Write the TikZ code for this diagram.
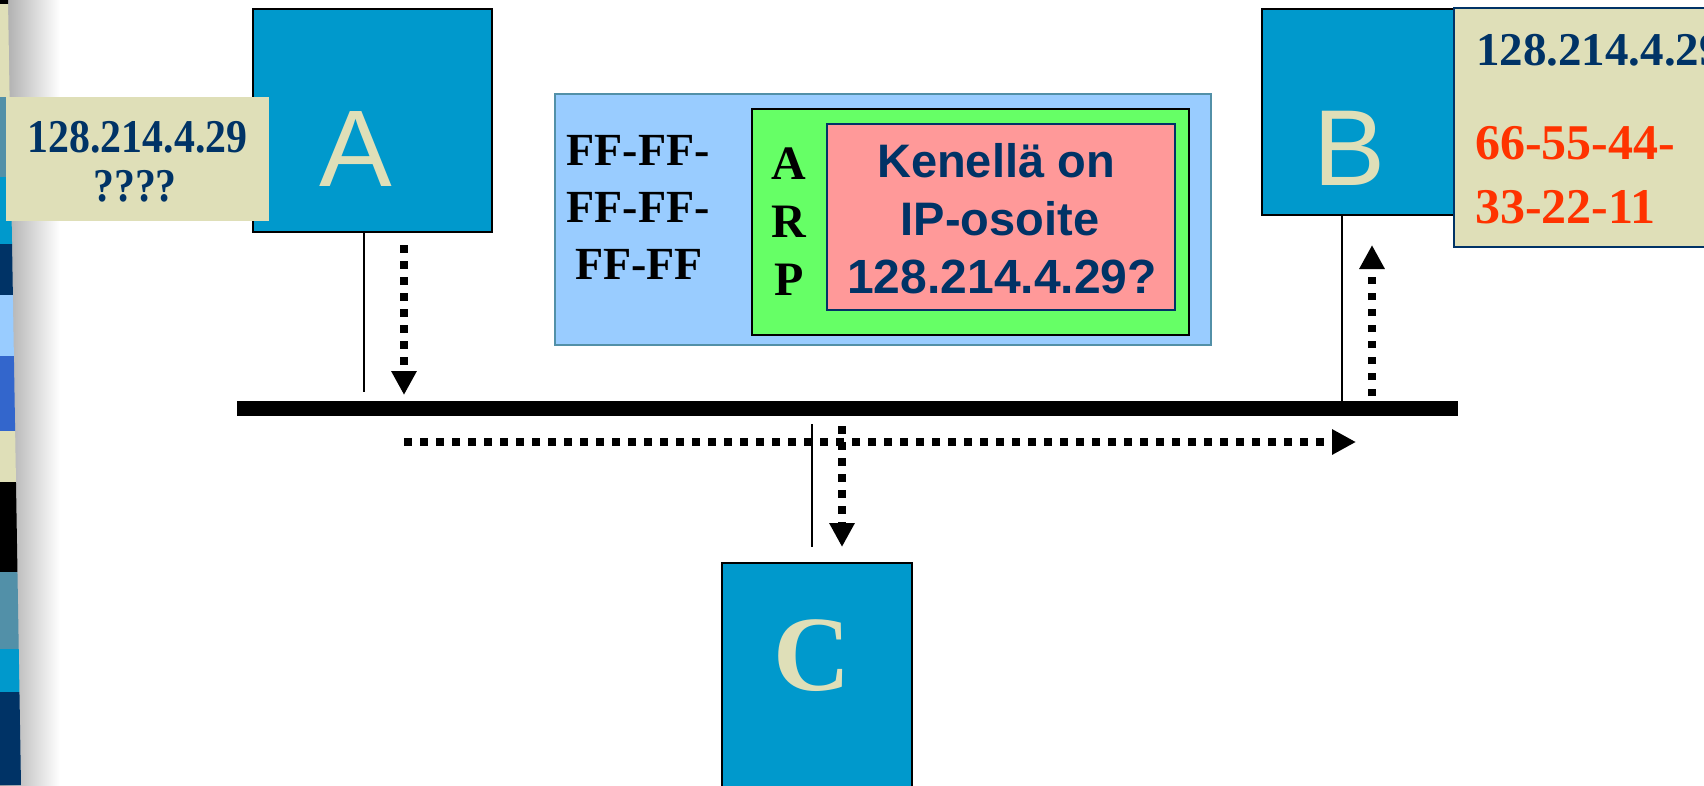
\documentclass[tikz,border=0pt]{standalone}
\usepackage{fontspec}
\setmainfont{Liberation Serif}
\newfontfamily\arialfont{Liberation Sans}
\usetikzlibrary{arrows.meta}

\definecolor{hostblue}{HTML}{0099CC}
\definecolor{khaki}{HTML}{DFDFB8}
\definecolor{navy}{HTML}{003366}
\definecolor{macred}{HTML}{FF3300}
\definecolor{frameblue}{HTML}{99CCFF}
\definecolor{framegreen}{HTML}{66FF66}
\definecolor{framepink}{HTML}{FF9999}
\definecolor{steel}{HTML}{5290A8}
\definecolor{stripeblue}{HTML}{3366CC}

\newcommand{\fsz}[1]{\fontsize{#1}{1.2\dimexpr#1pt\relax}\selectfont}

\begin{document}
\begin{tikzpicture}[x=1pt,y=-1pt,
  host/.style={draw=black, line width=2pt, fill=hostblue, inner sep=0pt},
  hostname/.style={text=khaki, inner sep=0pt, anchor=base},
  tag/.style={fill=khaki, inner sep=0pt},
  txt/.style={inner sep=0pt, anchor=base},
  tap/.style={line width=2pt},
  sig/.style={line width=8pt, dash pattern=on 7.5pt off 8.5pt,
              -{Triangle[length=24pt,width=24pt]}}
]
\useasboundingbox (0,0) rectangle (1704,785);
\clip (0,0) rectangle (1704,785);

% slide edge: shadow and coloured stripe
\shade[left color=gray!70, right color=white] (0,0) rectangle (60,785);
\foreach \ya/\yb/\c in {0/4/black, 4/97/khaki, 97/177/steel, 177/244/hostblue,
    244/295/navy, 295/356/frameblue, 356/431/stripeblue, 431/482/khaki,
    482/572/black, 572/649/steel, 649/692/hostblue, 692/785/navy}
  \fill[\c] (0,\ya) -- ({8+0.01656*\ya},\ya) -- ({8+0.01656*\yb},\yb) -- (0,\yb) -- cycle;

% hosts
\node[host, minimum width=239pt, minimum height=223pt] (boxA) at (372.5,120.5) {};
\node[host, minimum width=207pt, minimum height=206pt] (boxB) at (1365.5,112) {};
\node[host, minimum width=190pt, minimum height=257pt] (boxC) at (817,691.5) {};
\node[hostname, font=\arialfont\fsz{109}] (nameA) at (355.5,186) {A};
\node[hostname, font=\arialfont\fsz{108}] (nameB) at (1349,185) {B};
\node[hostname, font=\bfseries\fsz{107}] (nameC) at (812,690) {C};

% address tags
\node[tag, minimum width=263pt, minimum height=124pt] (tagA) at (137.5,159) {};
\node[txt, text=navy, font=\bfseries\fsz{47}] (ipA) at (137.5,152)
  {\scalebox{0.89}[1]{128.214.4.29}};
\node[txt, text=navy, font=\bfseries\fsz{47}] (macA) at (135,201)
  {\scalebox{0.89}[1]{????}};

\node[tag, draw=navy, line width=2pt, minimum width=286pt, minimum height=239pt]
  (tagB) at (1597,127.5) {};
\node[txt, anchor=base west, text=navy, font=\bfseries\fsz{47}] (ipB) at (1476,65) {128.214.4.29};
\node[txt, anchor=base west, text=macred, font=\bfseries\fsz{50}] (macB1) at (1475,159) {66-55-44-};
\node[txt, anchor=base west, text=macred, font=\bfseries\fsz{50}] (macB2) at (1475,223) {33-22-11};

% ARP frame
\node[draw=steel, line width=2pt, fill=frameblue, inner sep=0pt,
  minimum width=656pt, minimum height=251pt] (eth) at (883,219.5) {};
\node[draw=black, line width=1.5pt, fill=framegreen, inner sep=0pt,
  minimum width=437pt, minimum height=226pt] (arp) at (970.5,222) {};
\node[draw=navy, line width=2pt, fill=framepink, inner sep=0pt,
  minimum width=348pt, minimum height=186pt] (query) at (1001,217) {};

\node[txt, font=\bfseries\fsz{46}] (dst1) at (638,165) {FF-FF-};
\node[txt, font=\bfseries\fsz{46}] (dst2) at (638,222) {FF-FF-};
\node[txt, font=\bfseries\fsz{46}] (dst3) at (639,279) {FF-FF};

\node[txt, font=\bfseries\fsz{48}] (arpA) at (789,179) {A};
\node[txt, font=\bfseries\fsz{48}] (arpR) at (789,237) {R};
\node[txt, font=\bfseries\fsz{48}] (arpP) at (789,295) {P};

\node[txt, text=navy, font=\arialfont\bfseries\fsz{47}] (q1) at (996,177) {Kenellä on};
\node[txt, text=navy, font=\arialfont\bfseries\fsz{47}] (q2) at (1000,235) {IP-osoite};
\node[txt, text=navy, font=\arialfont\bfseries\fsz{48}] (q3) at (1002,293) {128.214.4.29?};

% shared medium
\node[fill=black, inner sep=0pt, minimum width=1221pt, minimum height=15pt] (bus) at (847.5,408.5) {};

% taps
\coordinate (tapA) at (364,392);
\coordinate (tapCtop) at (812,424);
\coordinate (tapCbot) at (812,547);
\draw[tap] (boxA.south -| tapA) -- (tapA);
\draw[tap] (boxB.south -| 1342,0) -- (bus.north -| 1342,0);
\draw[tap] (tapCtop) -- (tapCbot);

% broadcast of the request
\coordinate (sA) at (404,245);
\coordinate (eA) at (404,395);
\coordinate (sH) at (404,442);
\coordinate (eH) at (1356,442);
\coordinate (sC) at (842,426);
\coordinate (eC) at (842,547);
\coordinate (sB) at (1372,396);
\coordinate (eB) at (1372,245);
\draw[sig] (sA) -- (eA);
\draw[sig] (sH) -- (eH);
\draw[sig] (sC) -- (eC);
\draw[sig] (sB) -- (eB);
\end{tikzpicture}
\end{document}
